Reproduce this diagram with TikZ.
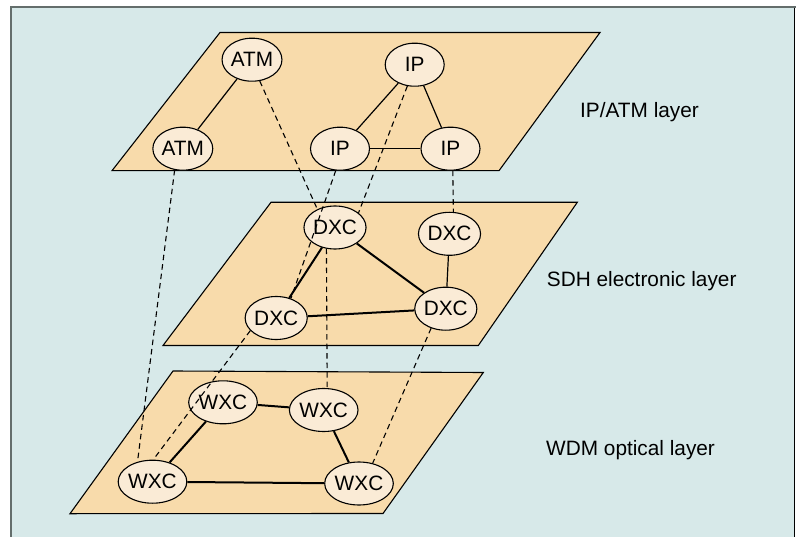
\documentclass[tikz,border=0pt]{standalone}
\usepackage{fontspec}
\setmainfont{Liberation Sans}
\usetikzlibrary{shapes.geometric}
\definecolor{bgpanel}{RGB}{215,233,233}
\definecolor{layerfill}{RGB}{248,219,171}
\definecolor{nodefill}{RGB}{250,235,214}
\definecolor{framegray}{RGB}{100,110,108}
\tikzset{
  netnode/.style={ellipse, draw=black, line width=1.1pt, fill=nodefill,
    minimum width=59pt, minimum height=43pt, inner sep=0pt,
    font=\fontsize{20.8}{24}\selectfont},
  layerplane/.style={draw=black, line width=1.1pt, fill=layerfill},
  layerlabel/.style={anchor=base west, inner sep=0pt,
    font=\fontsize{20.8}{24}\selectfont},
  thinlink/.style={draw=black, line width=1.2pt},
  thicklink/.style={draw=black, line width=2pt},
  vlink/.style={draw=black, line width=1.1pt, dash pattern=on 5.5pt off 4pt}
}
\begin{document}
\begin{tikzpicture}[x=1pt,y=-1pt]
\useasboundingbox (0,0) rectangle (797,537);
% panel
\fill[white] (0,0) rectangle (797,537);
\fill[bgpanel] (10.5,7.5) rectangle (794.5,537);
\draw[framegray, line width=1.5pt] (10.8,7.5) -- (10.8,537);
\draw[black, line width=1pt] (794.5,7.5) -- (794.5,537);
\draw[framegray, line width=2pt] (10,7.5) -- (795.5,7.5);
% layers
\draw[layerplane] (220,32.5) -- (600,32.5) -- (499,170.7) -- (112,170.7) -- cycle;
\draw[layerplane] (271,202.3) -- (577.3,202.3) -- (478.3,345.5) -- (163,345.5) -- cycle;
\draw[layerplane] (173,371) -- (483.3,372.5) -- (383,513.5) -- (70,513.7) -- cycle;
% labels
\node[layerlabel] (lab1) at (580,117.3) {IP/ATM layer};
\node[layerlabel] (lab2) at (546.7,286.7) {SDH electronic layer};
\node[layerlabel] (lab3) at (546,455.7) {WDM optical layer};
% top layer nodes
\node[netnode] (atm1) at (252,59.7) {ATM};
\node[netnode] (atm2) at (182.8,148.7) {ATM};
\node[netnode] (ipt) at (414.7,64.7) {IP};
\node[netnode] (ipl) at (340,148.7) {IP};
\node[netnode] (ipr) at (450.5,148.7) {IP};
% middle layer nodes
\node[netnode] (dxct) at (335,227.5) {DXC};
\node[netnode] (dxcr) at (449.5,233.8) {DXC};
\node[netnode] (dxcbr) at (445.8,308.7) {DXC};
\node[netnode] (dxcl) at (276.2,318) {DXC};
% bottom layer nodes
\node[netnode] (wxctl) at (223,402.3) {WXC};
\node[netnode] (wxctr) at (323.7,410) {WXC};
\node[netnode] (wxcbr) at (359,483.5) {WXC};
\node[netnode] (wxcbl) at (152.5,481.7) {WXC};
% top layer links
\draw[thinlink] (atm1) -- (atm2);
\draw[thinlink] (ipt) -- (ipl);
\draw[thinlink] (ipt) -- (ipr);
\draw[thinlink] (ipl) -- (ipr);
% middle layer links
\draw[thicklink] (dxct) -- (dxcl);
\draw[thicklink] (dxct) -- (dxcbr);
\draw[thicklink] (dxcl) -- (dxcbr);
\draw[thinlink] (dxcr) -- (dxcbr);
% bottom layer links
\draw[thicklink] (wxctl) -- (wxctr);
\draw[thicklink] (wxctr) -- (wxcbr);
\draw[thicklink] (wxcbr) -- (wxcbl);
\draw[thicklink] (wxcbl) -- (wxctl);
% inter-layer dashed links
\draw[vlink] (atm1.290) -- (dxct.134);
\draw[vlink] (atm2.249) -- (wxcbl.127);
\draw[vlink] (ipl.259) -- (dxcl.53);
\draw[vlink] (ipt.251) -- (dxct.32);
\draw[vlink] (ipr.276.6) -- (dxcr.80.8);
\draw[vlink] (dxct.248.9) -- (wxctr.81.3);
\draw[vlink] (dxcl.206) -- (wxcbl.88);
\draw[vlink] (dxcbr.233) -- (wxcbr.56);
\end{tikzpicture}
\end{document}
